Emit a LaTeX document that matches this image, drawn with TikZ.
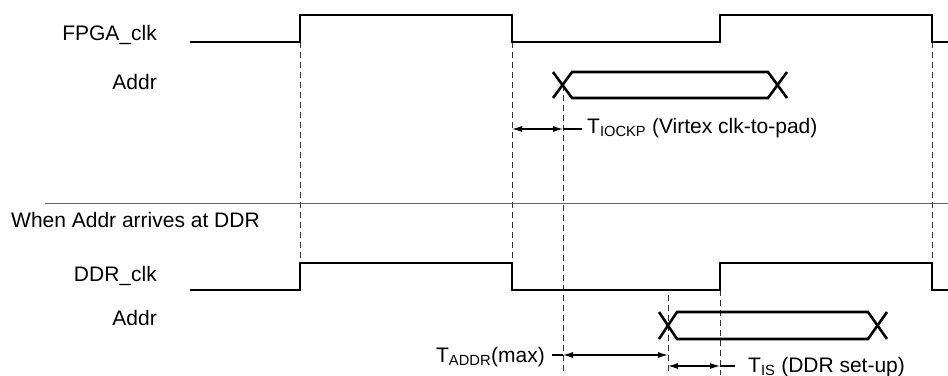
\documentclass[tikz,border=0pt]{standalone}
\usepackage{fontspec}
\setmainfont{Liberation Sans}
\usetikzlibrary{arrows.meta}
\begin{document}
\begin{tikzpicture}[x=1pt,y=-1pt,
  sig/.style={line width=2.6pt,line join=miter,black},
  guide/.style={line width=1pt,draw=black!80,dash pattern=on 6pt off 4pt},
  dim/.style={line width=1.1pt,{Latex[length=10pt,width=6pt]}-{Latex[length=10pt,width=6pt]}},
  lead/.style={line width=1.1pt},
  lbl/.style={font=\fontsize{21}{25}\selectfont,inner sep=0pt}]
\useasboundingbox (0,0) rectangle (948,375);
% separator
\draw[line width=1pt,draw=black!60] (45,203) -- (948,203);
% labels
\node[lbl,anchor=base east] (lfpga) at (157,40) {FPGA\_clk};
\node[lbl,anchor=base east] (laddr1) at (157,89) {Addr};
\node[lbl,anchor=base west] (lwhen) at (11,227) {When Addr arrives at DDR};
\node[lbl,anchor=base east] (lddr) at (157,281) {DDR\_clk};
\node[lbl,anchor=base east] (laddr2) at (157,325) {Addr};
% guides
\draw[guide] (300,42) -- (300,263);
\draw[guide] (512,42) -- (512,263);
\draw[guide] (932,42) -- (932,263);
\draw[guide] (563,85) -- (563,375);
\draw[guide] (668,295) -- (668,375);
\draw[guide] (720,290) -- (720,375);
% FPGA clock
\draw[sig] (190,42) -- (300,42) -- (300,15) -- (512,15) -- (512,42) -- (720,42) -- (720,15) -- (932,15) -- (932,42) -- (948,42);
% DDR clock
\draw[sig] (190,290) -- (300,290) -- (300,263) -- (512,263) -- (512,290) -- (720,290) -- (720,263) -- (932,263) -- (932,290) -- (948,290);
% Addr 1
\draw[sig] (553,72) -- (572,98) -- (768,98) -- (787,72);
\draw[sig] (553,98) -- (572,72) -- (768,72) -- (787,98);
% Addr 2
\draw[sig] (659,312) -- (677,339) -- (868,339) -- (887,312);
\draw[sig] (659,339) -- (677,312) -- (868,312) -- (887,339);
% dimension coordinates
\coordinate (a1) at (512,129);
\coordinate (a2) at (563,129);
\coordinate (a3) at (582,129);
\coordinate (b0) at (552,355);
\coordinate (b1) at (563,355);
\coordinate (b2) at (668,355);
\coordinate (c1) at (668,366);
\coordinate (c2) at (720,366);
\coordinate (c3) at (735,366);
\draw[dim] (a1) -- (a2);
\draw[lead] (a2) -- (a3);
\draw[lead] (b0) -- (b1);
\draw[dim] (b1) -- (b2);
\draw[dim] (c1) -- (c2);
\draw[lead] (c2) -- (c3);
\node[lbl,anchor=base west] (tiockp) at (587,133) {T\textsubscript{IOCKP} (Virtex clk-to-pad)};
\node[lbl,anchor=base east] (taddr) at (545,362) {T\textsubscript{ADDR}(max)};
\node[lbl,anchor=base west] (tis) at (748,372) {T\textsubscript{IS} (DDR set-up)};
\end{tikzpicture}
\end{document}
